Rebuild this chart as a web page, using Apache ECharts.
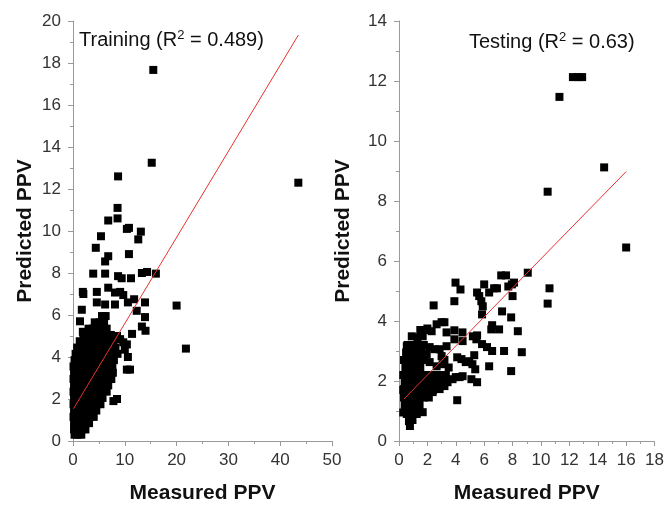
<!DOCTYPE html>
<html>
<head>
<meta charset="utf-8">
<script src="https://cdn.jsdelivr.net/npm/echarts@6/dist/echarts.min.js"></script>
<style>html,body{margin:0;padding:0;background:#fff;}#c{width:667px;height:509px;}</style>
</head>
<body>
<div id="c"></div>
<script>
// Training set: outliers + dense cluster
var trainOutliers = [[15.5,17.67],[15.2,13.25],[43.5,12.3],[8.7,12.6],[8.6,11.1],[8.6,10.6],[6.8,10.5],[10.8,10.15],[10.4,10.1],[13.1,9.97],[12.6,9.6],[5.4,9.75],[4.4,9.2],[6.8,8.8],[6.2,8.55],[10.8,8.9],
[3.9,7.97],[6.2,7.97],[8.7,7.85],[9.4,7.75],[11.2,7.75],[13.3,8.0],[14.3,8.05],[16.0,7.97],[20.0,6.45],[21.8,4.4],[1.9,7.1],[2.0,7.0],[4.6,7.1],[6.8,7.3],[8.1,7.07],[9.1,7.1],[9.7,6.95],[11.8,6.75],[1.7,6.25],[4.6,6.6],[6.2,6.5],[8.1,6.5],[10.6,6.6],[13.9,6.6],[12.3,6.2],[13.9,5.9],[1.35,5.7],[1.9,5.2],[13.3,5.45],[14.0,5.25],[11.4,5.1],[8.5,5.0],[10.6,4.0],[10.4,3.4],[11.0,3.4],[7.8,1.9],[10.0,4.35],[9.7,4.7],[8.5,2.0],[9.1,4.85],[10.4,4.6]];
var trainCluster = [
[0.3,0.3],[0.9,0.3],[1.6,0.3],
[0.2,0.55],[0.9,0.55],[1.7,0.55],[2.4,0.55],
[0.2,0.85],[0.8,0.85],[1.6,0.85],[2.4,0.85],[3.1,0.85],
[0.1,1.15],[0.9,1.15],[1.7,1.15],[2.6,1.15],[3.4,1.15],[4.0,1.15],
[0.2,1.45],[1.0,1.45],[1.9,1.45],[2.8,1.45],[3.6,1.45],[4.5,1.45],
[0.1,1.75],[0.8,1.75],[1.7,1.75],[2.6,1.75],[3.5,1.75],[4.4,1.75],[5.3,1.75],
[0.2,2.05],[1.0,2.05],[1.9,2.05],[2.9,2.05],[3.9,2.05],[4.8,2.05],[5.7,2.05],
[0.1,2.35],[0.9,2.35],[1.8,2.35],[2.8,2.35],[3.7,2.35],[4.6,2.35],[5.6,2.35],[6.5,2.35],
[0.2,2.65],[1.1,2.65],[2.0,2.65],[3.0,2.65],[3.9,2.65],[4.9,2.65],[5.8,2.65],[6.8,2.65],
[0.1,2.95],[0.9,2.95],[1.9,2.95],[2.8,2.95],[3.8,2.95],[4.7,2.95],[5.7,2.95],[6.6,2.95],[7.4,2.95],
[0.2,3.25],[1.1,3.25],[2.0,3.25],[3.0,3.25],[3.9,3.25],[4.9,3.25],[5.8,3.25],[6.8,3.25],[7.7,3.25],
[0.1,3.55],[1.0,3.55],[1.9,3.55],[2.9,3.55],[3.8,3.55],[4.8,3.55],[5.7,3.55],[6.7,3.55],[7.6,3.55],
[0.3,3.85],[1.2,3.85],[2.1,3.85],[3.1,3.85],[4.0,3.85],[5.0,3.85],[5.9,3.85],[6.9,3.85],[7.9,3.85],
[0.5,4.15],[1.4,4.15],[2.3,4.15],[3.2,4.15],[4.2,4.15],[5.1,4.15],[6.1,4.15],[7.0,4.15],[8.0,4.15],[8.6,4.15],
[0.8,4.45],[1.7,4.45],[2.6,4.45],[3.5,4.45],[4.4,4.45],[5.3,4.45],[6.3,4.45],[7.2,4.45],[8.2,4.45],
[1.3,4.75],[2.2,4.75],[3.1,4.75],[4.0,4.75],[5.0,4.75],[5.9,4.75],[6.8,4.75],[7.8,4.75],
[2.0,5.05],[2.9,5.05],[3.8,5.05],[4.8,5.05],[5.7,5.05],[6.6,5.05],[7.3,5.05],
[3.0,5.35],[3.9,5.35],[4.8,5.35],[5.7,5.35],[6.5,5.35],
[4.2,5.65],[5.1,5.65],[6.0,5.65],
[5.6,5.95],[6.3,5.95]];
var trainFit = [[0.1,1.54],[43.5,19.33]];

// Testing set
var testOutliers = [[10.47,8.31],[11.3,11.47],[12.25,12.13],[12.6,12.13],[12.9,12.13],[14.45,9.12],[16.0,6.45],[10.47,4.58],[10.6,5.09],[9.07,5.61],[7.54,5.52],[7.2,5.52],[6.9,5.09],[6.7,5.09],[6.35,4.95],[6.0,5.22],[7.95,5.22],[7.7,5.15],[8.1,5.28],[8.0,4.83],[5.65,4.83],[5.5,4.95],[5.8,4.66],[5.9,4.49],[5.85,4.22],[7.26,4.32],[7.9,4.12],[3.98,5.28],[4.33,5.05],[3.9,4.66],[2.44,4.52],[6.56,3.86],[6.5,3.72],[7.05,3.72],[8.37,3.66],[8.65,2.96],[7.4,3.0],[7.9,2.33],[6.35,2.49],[6.56,3.0],[6.2,3.13],[5.85,3.23],[5.45,3.39],[5.2,3.49],[5.5,3.52],[5.3,2.86],[4.95,2.66],[5.17,2.56],[5.37,2.39],[5.1,2.06],[5.5,1.96],[4.1,1.36],[4.48,2.16],[4.27,2.13],[4.7,2.63],[4.4,2.73],[4.1,2.79],[4.48,3.33],[3.9,3.39],[4.47,3.62],[3.9,3.69],[3.35,3.62],[3.2,3.96],[3.0,3.96],[2.65,3.89],[2.0,3.75],[2.3,3.66],[1.67,3.49],[0.9,3.49],[0.55,3.16],[1.1,3.13],[2.86,1.73],[3.2,1.83],[3.42,1.96],[3.77,2.06],[4.0,2.13],[2.37,1.63],[1.95,1.56],[1.67,0.96],[1.33,1.06],[2.86,3.06],[3.0,2.83],[3.07,2.56],[2.65,2.49],[2.16,2.63],[1.95,2.89],[2.16,3.13],[2.5,3.06],[3.35,3.16],[0.77,0.5],[0.7,0.66],[0.42,1.0],[0.55,0.9],[1.25,0.9],[0.35,1.73],[0.63,1.5]];
var testCluster = [
[0.95,0.7],
[0.3,0.95],[0.6,0.95],[1.0,0.95],
[0.4,1.2],[0.7,1.2],[1.1,1.2],[1.45,1.2],
[0.35,1.45],[0.65,1.45],[0.95,1.45],[1.3,1.45],[1.75,1.45],[2.1,1.45],
[0.3,1.7],[0.55,1.7],[0.9,1.7],[1.2,1.7],[1.6,1.7],[2.0,1.7],[2.4,1.7],
[0.4,1.95],[0.75,1.95],[1.05,1.95],[1.4,1.95],[1.8,1.95],[2.2,1.95],[2.6,1.95],[3.0,1.95],
[0.3,2.2],[0.6,2.2],[0.95,2.2],[1.3,2.2],[1.65,2.2],[2.05,2.2],[2.5,2.2],[2.9,2.2],[3.3,2.2],
[0.45,2.45],[0.8,2.45],[1.15,2.45],[1.5,2.45],[3.5,2.45],
[0.35,2.7],[0.7,2.7],[1.05,2.7],[1.4,2.7],[1.8,2.7],[3.2,2.7],
[0.5,2.95],[0.85,2.95],[1.2,2.95],[1.6,2.95],
[0.6,3.2],[1.0,3.2],[1.35,3.2],[1.75,3.2],
[1.3,3.45],[1.5,3.7],[1.9,3.7]];
var testFit = [[0.35,1.40],[16.0,8.98]];

var FONT = "'Liberation Sans', Arial, sans-serif";
var axColor = '#9a9a9a';
function xAx(gi, max, interval){
  return {gridIndex: gi, type:'value', min:0, max:max, interval:interval,
    name:'Measured PPV', nameLocation:'middle', nameGap:42,
    nameTextStyle:{fontFamily:FONT, fontSize:21, fontWeight:'bold', color:'#111'},
    axisLine:{show:true, lineStyle:{color:axColor, width:1}},
    axisTick:{show:true, length:5, lineStyle:{color:axColor}},
    minorTick:{show:true, splitNumber:2, length:3, lineStyle:{color:axColor}},
    axisLabel:{fontFamily:FONT, fontSize:17, color:'#333', margin:11},
    splitLine:{show:false}};
}
function yAx(gi, max, gap){
  return {gridIndex: gi, type:'value', min:0, max:max, interval:2,
    name:'Predicted PPV', nameLocation:'middle', nameGap:gap,
    nameTextStyle:{fontFamily:FONT, fontSize:21, fontWeight:'bold', color:'#111'},
    axisLine:{show:true, lineStyle:{color:axColor, width:1}},
    axisTick:{show:true, length:5, lineStyle:{color:axColor}},
    minorTick:{show:true, splitNumber:2, length:3, lineStyle:{color:axColor}},
    axisLabel:{fontFamily:FONT, fontSize:17, color:'#333', margin:12},
    splitLine:{show:false}};
}
var chart = echarts.init(document.getElementById('c'), null, {renderer:'canvas'});
var mk = {symbol:'rect', symbolSize:8, itemStyle:{color:'#000', opacity:1}};
chart.setOption({
  animation:false,
  backgroundColor:'#fff',
  grid:[{left:73, right:335, top:21, bottom:67},{left:399, right:10, top:21, bottom:67}],
  xAxis:[xAx(0,50,10), xAx(1,18,2)],
  yAxis:[yAx(0,20,37), yAx(1,14,45)],
  graphic:[
    {type:'text', left:79, top:29, style:{text:'{a|Training (R}{s|2}{a| = 0.489)}', rich:{a:{fontFamily:FONT, fontSize:20, fill:'#111', lineHeight:24}, s:{fontFamily:FONT, fontSize:13, fill:'#111', padding:[0,0,10,0]}}}},
    {type:'text', left:469, top:31, style:{text:'{a|Testing (R}{s|2}{a| = 0.63)}', rich:{a:{fontFamily:FONT, fontSize:20, fill:'#111', lineHeight:24}, s:{fontFamily:FONT, fontSize:13, fill:'#111', padding:[0,0,10,0]}}}}
  ],
  series:[
    Object.assign({type:'scatter', xAxisIndex:0, yAxisIndex:0, data:trainCluster}, mk),
    Object.assign({type:'scatter', xAxisIndex:0, yAxisIndex:0, data:trainOutliers}, mk),
    {type:'line', xAxisIndex:0, yAxisIndex:0, data:trainFit, showSymbol:false, symbol:'none', lineStyle:{color:'#e8322f', width:1}, z:5},
    Object.assign({type:'scatter', xAxisIndex:1, yAxisIndex:1, data:testCluster}, mk),
    Object.assign({type:'scatter', xAxisIndex:1, yAxisIndex:1, data:testOutliers}, mk),
    {type:'line', xAxisIndex:1, yAxisIndex:1, data:testFit, showSymbol:false, symbol:'none', lineStyle:{color:'#e8322f', width:1}, z:5}
  ]
});
</script>
</body>
</html>
